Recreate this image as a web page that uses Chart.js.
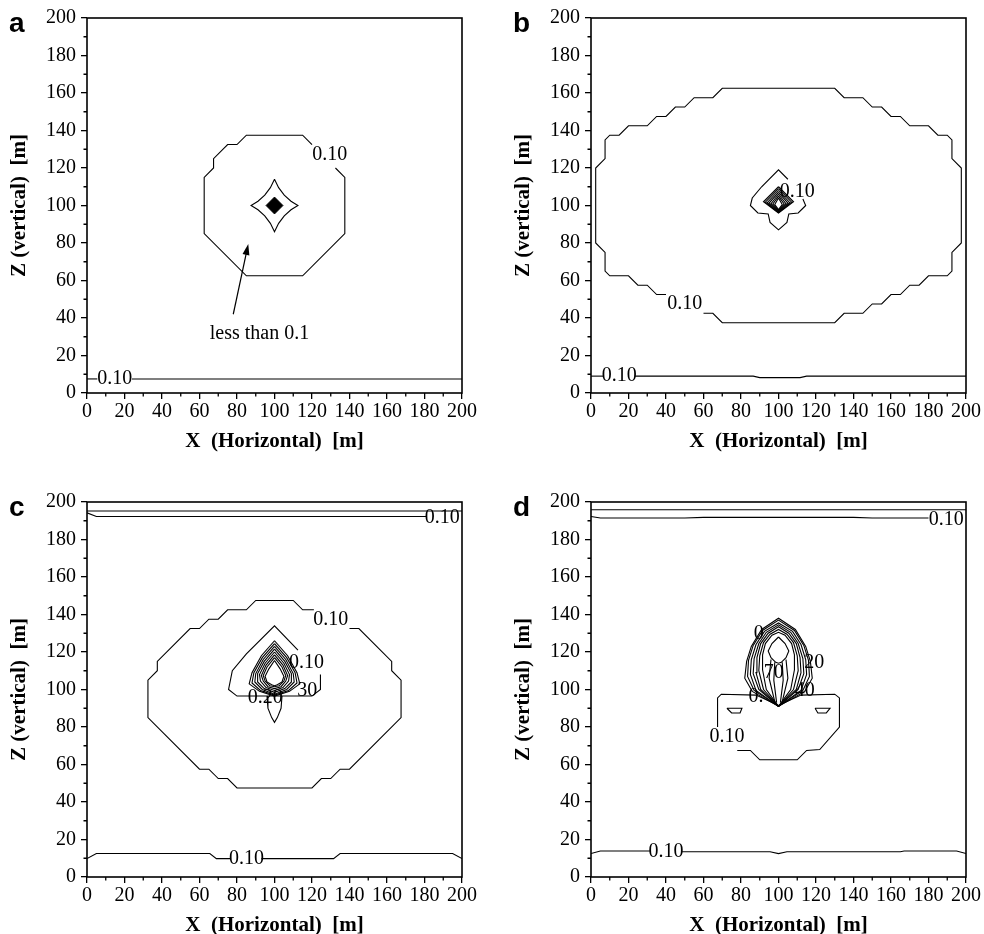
<!DOCTYPE html>
<html>
<head>
<meta charset="utf-8">
<script src="https://cdn.jsdelivr.net/npm/chart.js@4.4.0/dist/chart.umd.min.js"></script>
<style>
  body { margin: 0; background: #fff; overflow: hidden; width: 984px; height: 934px; position: relative; }
  .panel { position: absolute; width: 480px; height: 460px; }
</style>
</head>
<body>
<div class="panel" style="left:0;top:0"><canvas id="chartA" width="480" height="460"></canvas></div>
<div class="panel" style="left:504px;top:0"><canvas id="chartB" width="480" height="460"></canvas></div>
<div class="panel" style="left:0;top:484px"><canvas id="chartC" width="480" height="460"></canvas></div>
<div class="panel" style="left:504px;top:484px"><canvas id="chartD" width="480" height="460"></canvas></div>
<script>
// axis values
const tickStep = 20;
const minorTicks = [10, 30, 50, 70, 90, 110, 130, 150, 170, 190];

// ---- panel a ----
const aOuter = [[132.5,120],[137.5,115],[137.5,85],[115,62.5],[85,62.5],[62.5,85],[62.5,115],[67.5,120],[67.5,125],[75,132.5],[80,132.5],[85,137.5],[115,137.5],[120,132.5]];
const aStar = [[100,114],[102.2,109.5],[105.2,105.5],[108.8,102.3],[112.5,100],[108.8,97.7],[105.2,94.5],[102.2,90.5],[100,86],[97.8,90.5],[94.8,94.5],[91.2,97.7],[87.5,100],[91.2,102.3],[94.8,105.5],[97.8,109.5],[100,114]];
const aCore = [[100,104.5],[104.5,100],[100,95.5],[95.5,100],[100,104.5]];
const aBase1 = [[0,7.5],[5.5,7.5]];
const aBase2 = [[24,7.5],[200,7.5]];
const aArrow = [[78,42],[86,79.5]];
const aLabels = [['0.10',129.5,127],['0.10',14.8,7.5],['less than 0.1',92,31.5]];

// ---- panel b ----
const bOuter = [[40,52.5],[35,52.5],[30,57.5],[25,57.5],[20,62.5],[10,62.5],[7.5,65],[7.5,75],[2.5,80],[2.5,120],[7.5,125],[7.5,135],[10,137.5],[15,137.5],[20,142.5],[30,142.5],[35,147.5],[40,147.5],[45,152.5],[50,152.5],[55,157.5],[65,157.5],[70,162.5],[130,162.5],[135,157.5],[145,157.5],[150,152.5],[155,152.5],[160,147.5],[165,147.5],[170,142.5],[180,142.5],[185,137.5],[190,137.5],[192.5,135],[192.5,125],[197.5,120],[197.5,80],[192.5,75],[192.5,65],[190,62.5],[180,62.5],[175,57.5],[170,57.5],[165,52.5],[160,52.5],[155,47.5],[150,47.5],[145,42.5],[135,42.5],[130,37.5],[70,37.5],[65,42.5],[60,42.5]];
const bInner = [[105,114],[100,119],[91,110],[86,104],[85,100],[89,96],[94.5,95.5],[95.5,91],[100,87],[104.5,91],[105.5,95.5],[110.5,96],[114.5,100],[113,103.5]];
const bK1 = [[100,110],[92,102],[100,96],[108,102],[100,110]];
const bK2 = [[100,109],[93,101.8],[100,96.3],[107,101.8],[100,109]];
const bK3 = [[100,108],[94,101.5],[100,96.6],[106,101.5],[100,108]];
const bK4 = [[100,107],[95,101.3],[100,96.9],[105,101.3],[100,107]];
const bK5 = [[100,106],[96,101],[100,97.2],[104,101],[100,106]];
const bK6 = [[100,105],[97,100.8],[100,97.5],[103,100.8],[100,105]];
const bK7 = [[100,104],[98,100.5],[100,97.8],[102,100.5],[100,104]];
const bBase1 = [[0,9],[6.5,9]];
const bBase2 = [[23.5,9],[86.5,9],[90,8.2],[111.5,8.2],[115,9],[200,9]];
const bLabels = [['0.10',50,47.5],['0.10',110,107.5],['0.10',15,9]];

// ---- panel c ----
const cTop1 = [[0,195.2],[200,195.2]];
const cTop2 = [[0,194.2],[5,192.3],[181,192.3]];
const cOuter = [[140,132.5],[145,132.5],[162.5,115],[162.5,110],[167.5,105],[167.5,85],[140,57.5],[135,57.5],[130,52.5],[125,52.5],[120,47.5],[80,47.5],[75,52.5],[70,52.5],[65,57.5],[60,57.5],[32.5,85],[32.5,105],[37.5,110],[37.5,115],[55,132.5],[60,132.5],[65,137.5],[70,137.5],[75,142.5],[85,142.5],[90,147.5],[110,147.5],[115,142.5],[121,142.5]];
const cInner = [[112.5,121],[100,134],[85,119],[77.5,110],[75.5,100],[80,96.5],[120,96.5],[124.5,100],[124.5,108]];
const cDrop = [[96,96.5],[96.5,90],[98.5,85],[100,82.5],[101.5,85],[103.5,90],[104,96.5]];
const cN1 = [[100,126],[93,118],[88,109],[86.5,103],[92,99],[100,96.5],[108,99],[113.5,103],[112,109],[107,118],[100,126]];
const cN2 = [[100,124.5],[93.5,117],[89,109],[88,103.5],[92.5,99.5],[100,97],[107.5,99.5],[112,103.5],[111,109],[106.5,117],[100,124.5]];
const cN3 = [[100,123],[94,116],[90,108.5],[89.5,104],[93.5,100],[100,97.5],[106.5,100],[110.5,104],[110,108.5],[106,116],[100,123]];
const cN4 = [[100,121.5],[94.5,115],[91,108.5],[91,104],[94.5,100.5],[100,98.5],[105.5,100.5],[109,104],[109,108.5],[105.5,115],[100,121.5]];
const cN5 = [[100,120],[95,114],[92,108],[92.5,104.5],[95.5,101],[100,99.5],[104.5,101],[107.5,104.5],[108,108],[105,114],[100,120]];
const cN6 = [[100,118.5],[95.5,113],[93,107.5],[94,104.5],[96.5,101.5],[100,100.5],[103.5,101.5],[106,104.5],[107,107.5],[104.5,113],[100,118.5]];
const cN7 = [[100,117],[96,112],[94,107.5],[95,104.5],[97.5,102],[100,101.5],[102.5,102],[105,104.5],[106,107.5],[104,112],[100,117]];
const cN8 = [[100,115.5],[97,111],[95,107],[96,104],[98.5,102.5],[100,102],[101.5,102.5],[104,104],[105,107],[103,111],[100,115.5]];
const cBase1 = [[0,9.8],[5,12.5],[65.5,12.5],[69,9.8],[76.5,9.8]];
const cBase2 = [[93,9.8],[131.5,9.8],[135,12.5],[195,12.5],[200,9.8]];
const cLabels = [['0.10',189.5,191.5],['0.10',130,137],['0.10',117,114.5],['0.20',95,95.5],['30',117.5,99.5],['0.10',85,9.8]];

// ---- panel d ----
const dTop1 = [[0,195.9],[200,195.9]];
const dTop2 = [[0,192.3],[5,191.5],[50,191.5],[60,191.8],[140,191.8],[150,191.5],[180,191.5]];
const dLower = [[67.5,80],[67.5,95.5],[69.5,97.5],[88,97],[100,91.5],[112,97],[130,97.5],[132.5,95.5],[132.5,80],[122,68],[115,67.5],[110,62.5],[90,62.5],[85,67.5],[78,67.5]];
const dPocketL = [[72.5,90],[80.5,90],[79.5,87.5],[75,87.5],[72.5,90]];
const dPocketR = [[119.5,90],[127.5,90],[125.5,87.5],[121,87.5],[119.5,90]];
const dN1 = [[100,91],[86,99],[82,106],[83,115],[85.5,123],[91,132],[100,138],[109,132],[114.5,123],[117,115],[118,106],[114,99],[100,91]];
const dN2 = [[100,91],[87,99.5],[83.5,107],[84,115.5],[86.5,123.5],[91.5,131.5],[100,137],[108.5,131.5],[113.5,123.5],[116,115.5],[116.5,107],[113,99.5],[100,91]];
const dN3 = [[100,91],[88,99.5],[85,108],[85.5,116],[88,124],[92.5,131],[100,135.5],[107.5,131],[112,124],[114.5,116],[115,108],[112,99.5],[100,91]];
const dN4 = [[100,91],[89.5,100],[86.5,108.5],[87,116.5],[89.5,124.5],[93.5,130.5],[100,134.5],[106.5,130.5],[110.5,124.5],[113,116.5],[113.5,108.5],[110.5,100],[100,91]];
const dN5 = [[100,91],[90.5,100],[88,109],[88.5,117],[90.5,124.5],[94.5,130],[100,133.5],[105.5,130],[109.5,124.5],[111.5,117],[112,109],[109.5,100],[100,91]];
const dN6 = [[100,91],[92,100],[89.5,110],[90,118],[92,125],[95.5,129.5],[100,132],[104.5,129.5],[108,125],[110,118],[110.5,110],[108,100],[100,91]];
const dN7 = [[100,91],[93.5,100],[91.5,110.5],[91.5,118.5],[93,124.5],[96.5,129],[100,130.5],[103.5,129],[107,124.5],[108.5,118.5],[108.5,110.5],[106.5,100],[100,91]];
const dLoop = [[100,128],[96.5,124.5],[94.5,120.5],[96,117],[98.5,114.5],[100,114],[101.5,114.5],[104,117],[105.5,120.5],[103.5,124.5],[100,128]];
const dS1 = [[98,114.5],[97.5,105],[99,93]];
const dS2 = [[102,114.5],[102.5,105],[101,93]];
const dS3 = [[96,116],[95,106],[98,93.5]];
const dS4 = [[104,116],[105,106],[102,93.5]];
const dBase1 = [[0,12.5],[5,13.9],[31.5,13.9]];
const dBase2 = [[48.5,13.5],[95.5,13.5],[100,12.5],[104.5,13.5],[165,13.5],[167,13.9],[195,13.9],[200,12.5]];
const dLabels = [['0.10',189.5,190.8],['0',89.5,130],['20',119,114.5],['70',97.5,109],['40',114,99.5],['0.',88,96],['0.10',72.5,75],['0.10',40,13.7]];

const serif = "'Liberation Serif', 'Times New Roman', serif";

// frame, minor ticks, contour labels, panel letter, arrow
const decorPlugin = {
    id: "decor",
    afterDraw(chart, args, opts) {
        const { ctx, chartArea: ca } = chart;
        const x = chart.scales.x;
        const y = chart.scales.y;
        ctx.save();
        ctx.strokeStyle = "#000";
        ctx.lineWidth = 1.6;
        ctx.strokeRect(ca.left, ca.top, ca.right - ca.left, ca.bottom - ca.top);

        ctx.lineWidth = 1.3;
        ctx.beginPath();
        minorTicks.forEach(v => {
            const px = x.getPixelForValue(v);
            ctx.moveTo(px, ca.bottom);
            ctx.lineTo(px, ca.bottom + 3.5);
            const py = y.getPixelForValue(v);
            ctx.moveTo(ca.left, py);
            ctx.lineTo(ca.left - 3.5, py);
        });
        ctx.stroke();

        ctx.fillStyle = "#000";
        ctx.font = `20px ${serif}`;
        ctx.textAlign = "center";
        ctx.textBaseline = "middle";
        (opts.labels || []).forEach(([text, lx, ly]) => {
            ctx.fillText(text, x.getPixelForValue(lx), y.getPixelForValue(ly));
        });

        if (opts.arrow) {
            const [p0, p1] = opts.arrow;
            const x0 = x.getPixelForValue(p0[0]), y0 = y.getPixelForValue(p0[1]);
            const x1 = x.getPixelForValue(p1[0]), y1 = y.getPixelForValue(p1[1]);
            const ang = Math.atan2(y1 - y0, x1 - x0);
            ctx.lineWidth = 1.2;
            ctx.beginPath();
            ctx.moveTo(x0, y0);
            ctx.lineTo(x1 - 6 * Math.cos(ang), y1 - 6 * Math.sin(ang));
            ctx.stroke();
            ctx.beginPath();
            ctx.moveTo(x1, y1);
            ctx.lineTo(x1 - 11 * Math.cos(ang) + 3.5 * Math.sin(ang), y1 - 11 * Math.sin(ang) - 3.5 * Math.cos(ang));
            ctx.lineTo(x1 - 11 * Math.cos(ang) - 3.5 * Math.sin(ang), y1 - 11 * Math.sin(ang) + 3.5 * Math.cos(ang));
            ctx.closePath();
            ctx.fill();
        }

        ctx.font = "bold 28px 'Liberation Sans', Arial, sans-serif";
        ctx.textAlign = "left";
        ctx.textBaseline = "alphabetic";
        ctx.fillText(opts.letter, 9, 32);
        ctx.restore();
    }
};

function axis(pos, title) {
    const isLeft = pos === "left";
    return {
        type: "linear",
        position: pos,
        min: 0,
        max: 200,
        ticks: {
            stepSize: tickStep,
            color: "#000",
            font: { family: serif, size: 20 },
            padding: isLeft ? 5 : 1,
            maxRotation: 0,
            autoSkip: false
        },
        grid: { drawOnChartArea: false, drawTicks: true, tickLength: 6, color: "#000", lineWidth: 1.3 },
        border: { display: false },
        title: {
            display: true,
            text: title,
            color: "#000",
            font: { family: serif, size: 21, weight: "bold" },
            padding: isLeft ? { top: 7, bottom: 0 } : { top: 0, bottom: 6 }
        },
        afterFit: scale => {
            if (isLeft) scale.width = 87;
            else scale.height = 67;
        }
    };
}

function lineSet(pts) {
    return { data: pts, showLine: true, borderColor: "#000", borderWidth: 1.1, pointRadius: 0, fill: false };
}

function buildChart(id, lines, filled, letter, labels, arrow) {
    const datasets = lines.map(lineSet);
    filled.forEach(pts => {
        datasets.push({ data: pts, showLine: true, borderColor: "#000", borderWidth: 1, pointRadius: 0, fill: "shape", backgroundColor: "#000" });
    });
    return new Chart(document.getElementById(id), {
        type: "scatter",
        data: { datasets },
        options: {
            responsive: false,
            animation: false,
            events: [],
            layout: { padding: { top: 18, right: 18, left: 0, bottom: 0 } },
            scales: {
                x: axis("bottom", "X  (Horizontal)  [m]"),
                y: axis("left", "Z (vertical)  [m]")
            },
            plugins: {
                legend: { display: false },
                tooltip: { enabled: false },
                decor: { letter, labels, arrow }
            }
        },
        plugins: [decorPlugin]
    });
}

buildChart("chartA", [aOuter, aStar, aBase1, aBase2], [aCore], "a", aLabels, aArrow);
buildChart("chartB", [bOuter, bInner, bK1, bK2, bK3, bK4, bK5, bK6, bK7, bBase1, bBase2], [], "b", bLabels, null);
buildChart("chartC", [cTop1, cTop2, cOuter, cInner, cDrop, cN1, cN2, cN3, cN4, cN5, cN6, cN7, cN8, cBase1, cBase2], [], "c", cLabels, null);
buildChart("chartD", [dTop1, dTop2, dLower, dPocketL, dPocketR, dN1, dN2, dN3, dN4, dN5, dN6, dN7, dLoop, dS1, dS2, dS3, dS4, dBase1, dBase2], [], "d", dLabels, null);
</script>
</body>
</html>
